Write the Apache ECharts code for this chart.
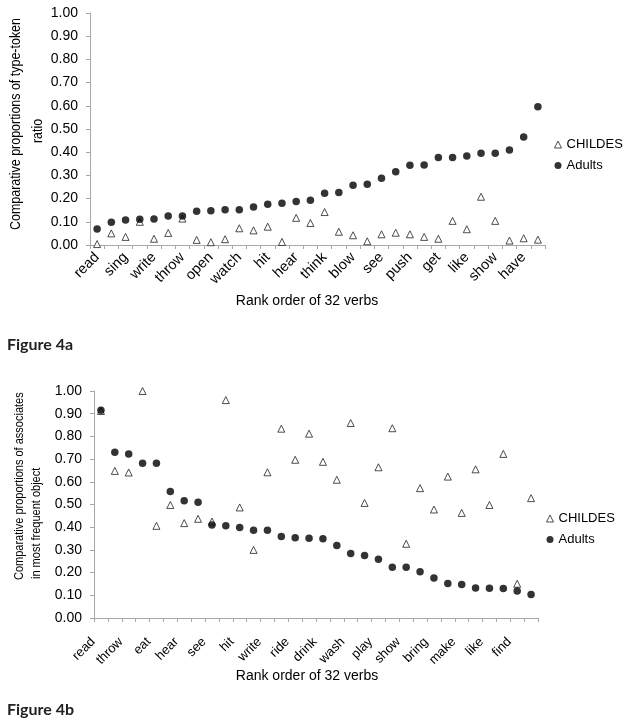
<!DOCTYPE html>
<html>
<head>
<meta charset="utf-8">
<script src="https://cdn.jsdelivr.net/npm/echarts@6/dist/echarts.min.js"></script>
<style>
html,body{margin:0;padding:0;background:#fff;}
#c{width:624px;height:723px;}
</style>
</head>
<body>
<div id="c"></div>
<script>
// ---- Data ----
var ranks = [];
for (var r = 1; r <= 32; r++) ranks.push(String(r));

// Tick labels (only every second rank is labelled in the original)
var labelsA = ['read','','sing','','write','','throw','','open','','watch','','hit','','hear','',
               'think','','blow','','see','','push','','get','','like','','show','','have',''];
var labelsB = ['read','','throw','','eat','','hear','','see','','hit','','write','','ride','',
               'drink','','wash','','play','','show','','bring','','make','','like','','find',''];

// Figure 4a: type-token ratio
var childesA = [0.004,0.050,0.035,0.100,0.027,0.052,0.114,0.022,0.012,0.025,0.072,0.063,0.079,0.013,0.117,0.095,
                0.142,0.057,0.042,0.016,0.046,0.053,0.046,0.035,0.027,0.104,0.068,0.208,0.104,0.019,0.029,0.023];
var adultsA  = [0.069,0.098,0.108,0.111,0.112,0.125,0.125,0.145,0.148,0.152,0.152,0.164,0.176,0.180,0.187,0.193,
                0.223,0.226,0.258,0.262,0.288,0.316,0.344,0.345,0.377,0.377,0.384,0.396,0.396,0.409,0.466,0.596];

// Figure 4b: associates in most frequent object
var childesB = [0.912,0.648,0.641,1.000,0.406,0.498,0.418,0.437,0.425,0.960,0.487,0.300,0.642,0.834,0.697,0.812,
                0.688,0.609,0.859,0.507,0.664,0.836,0.327,0.572,0.478,0.623,0.463,0.655,0.498,0.723,0.151,0.528];
var adultsB  = [0.915,0.730,0.723,0.682,0.682,0.557,0.517,0.510,0.410,0.406,0.399,0.387,0.387,0.359,0.353,0.351,
                0.349,0.319,0.284,0.275,0.259,0.224,0.224,0.204,0.176,0.152,0.148,0.132,0.131,0.130,0.119,0.103];

var seriesNames = ['CHILDES','Adults'];
var xTitle = 'Rank order of 32 verbs';
var yTitleA = ['Comparative proportions of type-token', 'ratio'];
var yTitleB = ['Comparative proportions of associates', 'in most frequent object'];
var figA = 'Figure 4a', figB = 'Figure 4b';

// ---- Chart ----
var FONT = '"Liberation Sans", Arial, sans-serif';
var axisGray = '#a8a8a8';
var txt = '#000';

function xAxisCfg(idx, labels, fs, margin, pad) {
  return {
    type: 'category', gridIndex: idx, data: ranks, boundaryGap: true,
    axisLine: {lineStyle: {color: axisGray, width: 1}},
    axisTick: {show: true, interval: 0, length: 4, lineStyle: {color: axisGray}},
    axisLabel: {
      interval: 0, rotate: 45, margin: margin, color: txt, fontFamily: FONT, fontSize: fs,
      padding: pad,
      formatter: function (v, i) { return labels[i]; }
    },
    splitLine: {show: false}
  };
}
function yAxisCfg(idx, margin) {
  return {
    type: 'value', gridIndex: idx, min: 0, max: 1, interval: 0.1,
    axisLine: {show: true, lineStyle: {color: axisGray, width: 1}},
    axisTick: {show: true, length: 4, lineStyle: {color: axisGray}},
    axisLabel: {color: txt, fontFamily: FONT, fontSize: 14, margin: margin,
      formatter: function (v) { return v.toFixed(2); }},
    splitLine: {show: false}
  };
}
function tri(name, xi, data) {
  return {name: name, type: 'scatter', xAxisIndex: xi, yAxisIndex: xi, data: data,
    symbol: 'triangle', symbolSize: 7, z: 2,
    itemStyle: {color: '#ffffff', borderColor: '#222', borderWidth: 1}};
}
function dot(name, xi, data) {
  return {name: name, type: 'scatter', xAxisIndex: xi, yAxisIndex: xi, data: data,
    symbol: 'circle', symbolSize: 7.5, z: 3,
    itemStyle: {color: '#000000'}};
}
function legendCfg(left, top) {
  return {
    orient: 'vertical', left: left, top: top, itemWidth: 7, itemHeight: 7, itemGap: 8,
    textStyle: {color: txt, fontFamily: FONT, fontSize: 13},
    data: [{name: seriesNames[0], icon: 'triangle', itemStyle: {color: '#fff', borderColor: '#222', borderWidth: 1}},
           {name: seriesNames[1], icon: 'circle', itemStyle: {color: '#000'}}],
    selectedMode: false
  };
}
function vText(x, y, text, fs, align, sx) {
  return {type: 'text', x: x, y: y, rotation: Math.PI / 2, scaleX: sx, scaleY: 1,
    style: {text: text, fill: txt, font: fs + 'px ' + FONT, align: align, verticalAlign: 'middle'}};
}

var chart = echarts.init(document.getElementById('c'), null, {renderer: 'canvas'});
chart.setOption({
  animation: false,
  backgroundColor: '#fff',
  grid: [
    {left: 90, top: 13, width: 455, height: 232},
    {left: 94, top: 391, width: 444, height: 227}
  ],
  xAxis: [xAxisCfg(0, labelsA, 14.5, 10, 0), xAxisCfg(1, labelsB, 13, 14, [0, 11, 0, 0])],
  yAxis: [yAxisCfg(0, 12), yAxisCfg(1, 12)],
  legend: [legendCfg(549, 133), legendCfg(541, 507)],
  series: [
    tri(seriesNames[0], 0, childesA), dot(seriesNames[1], 0, adultsA),
    tri(seriesNames[0], 1, childesB), dot(seriesNames[1], 1, adultsB)
  ],
  graphic: [
    vText(16, 124, yTitleA[0], 14, 'center', 0.89),
    vText(38, 131, yTitleA[1], 14, 'center', 0.89),
    vText(20, 580, yTitleB[0], 12.5, 'left', 0.88),
    vText(37, 579, yTitleB[1], 12.5, 'left', 0.88),
    {type: 'text', x: 307, y: 301, style: {text: xTitle, fill: txt, font: '14px ' + FONT, align: 'center', verticalAlign: 'middle'}},
    {type: 'text', x: 307, y: 676, style: {text: xTitle, fill: txt, font: '14px ' + FONT, align: 'center', verticalAlign: 'middle'}},
    {type: 'text', x: 7, y: 345, style: {text: figA, fill: '#222', font: 'bold 16px Lato, sans-serif', align: 'left', verticalAlign: 'middle'}},
    {type: 'text', x: 7, y: 710, style: {text: figB, fill: '#222', font: 'bold 16px Lato, sans-serif', align: 'left', verticalAlign: 'middle'}}
  ]
});
</script>
</body>
</html>
